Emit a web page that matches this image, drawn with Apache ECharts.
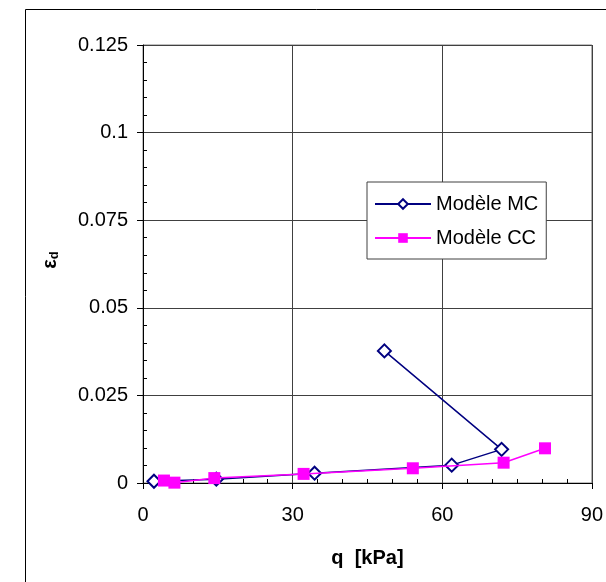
<!DOCTYPE html>
<html>
<head>
<meta charset="utf-8">
<script src="https://cdn.jsdelivr.net/npm/echarts@6/dist/echarts.min.js"></script>
<style>
  html, body { margin: 0; padding: 0; background: #fff; }
  #chart { width: 606px; height: 582px; }
</style>
</head>
<body>
<div id="chart"></div>
<script>
// Modèle MC (diamants) et Modèle CC (carrés)
let qMC = [2.2, 14.7, 34.4, 61.9, 71.9, 48.4];
let epsMC = [0.0005, 0.0011, 0.0028, 0.0051, 0.0096, 0.0377];
let qCC = [4.2, 6.3, 14.3, 32.2, 54.1, 72.3, 80.6];
let epsCC = [0.0007, 0.0001, 0.0014, 0.0026, 0.0042, 0.0058, 0.0099];
let seriesNames = ['Modèle MC', 'Modèle CC'];

let myChart = echarts.init(document.getElementById('chart'));
let font = 'Liberation Sans, Arial, sans-serif';

function pairs(xs, ys) {
    return xs.map((x, i) => [x, ys[i]]);
}

let option = {
    animation: false,
    backgroundColor: '#fff',
    textStyle: { fontFamily: font },
    graphic: [{
        type: 'rect',
        left: 23, top: 7,
        shape: { width: 700, height: 700 },
        style: { fill: 'none', stroke: '#000', lineWidth: 1 }
    }],
    grid: {
        left: 143, right: 13, top: 45, bottom: 99,
        show: true, borderColor: '#808080', borderWidth: 1
    },
    legend: {
        orient: 'vertical',
        left: 367, top: 182,
        width: 178,
        padding: [12, 8, 11, 7],
        itemWidth: 56, itemHeight: 12,
        itemGap: 14,
        backgroundColor: '#fff',
        borderColor: '#404040', borderWidth: 1,
        textStyle: { fontSize: 20, color: '#000', fontFamily: font },
        data: seriesNames
    },
    xAxis: [{
        type: 'value',
        min: 0, max: 90, interval: 30,
        name: 'q  [kPa]',
        nameLocation: 'middle', nameGap: 65,
        nameTextStyle: { fontSize: 20, fontWeight: 'bold', color: '#000' },
        axisLine: { show: true, onZero: false, lineStyle: { color: '#000' } },
        axisTick: { show: true, length: 6, lineStyle: { color: '#000' } },
        axisLabel: { fontSize: 20, color: '#000', margin: 22 },
        splitLine: { show: true, lineStyle: { color: '#404040', width: 1 } }
    }, {
        type: 'value',
        position: 'bottom',
        min: 0, max: 90, interval: 30,
        axisLine: { show: false },
        axisTick: { show: false, inside: true },
        minorTick: { show: true, splitNumber: 6, length: 4, lineStyle: { color: '#000' } },
        axisLabel: { show: false },
        splitLine: { show: false }
    }],
    yAxis: [{
        type: 'value',
        min: 0, max: 0.125, interval: 0.025,
        name: 'ε{sub|d}',
        nameLocation: 'middle', nameGap: 82,
        nameTextStyle: {
            fontSize: 20, fontWeight: 'bold', color: '#000', padding: [0, 0, 0, 8],
            rich: { sub: { fontSize: 13, fontWeight: 'bold', verticalAlign: 'bottom', padding: [8, 0, 0, 0] } }
        },
        axisLine: { show: true, onZero: false, lineStyle: { color: '#000' } },
        axisTick: { show: true, length: 6, lineStyle: { color: '#000' } },
        axisLabel: { fontSize: 20, color: '#000', margin: 15 },
        splitLine: { show: true, lineStyle: { color: '#404040', width: 1 } }
    }, {
        type: 'value',
        position: 'left',
        min: 0, max: 0.125, interval: 0.025,
        axisLine: { show: false },
        axisTick: { show: false, inside: true },
        minorTick: { show: true, splitNumber: 5, length: 4, lineStyle: { color: '#000' } },
        axisLabel: { show: false },
        splitLine: { show: false }
    }],
    series: [{
        name: seriesNames[0],
        type: 'line',
        data: pairs(qMC, epsMC),
        symbol: 'diamond',
        symbolSize: 13,
        color: '#000080',
        lineStyle: { color: '#000080', width: 1.5 },
        itemStyle: { color: '#fff', borderColor: '#000080', borderWidth: 2 },
        z: 3
    }, {
        name: seriesNames[1],
        type: 'line',
        data: pairs(qCC, epsCC),
        symbol: 'rect',
        symbolSize: 12,
        color: '#ff00ff',
        lineStyle: { color: '#ff00ff', width: 1.5 },
        itemStyle: { color: '#ff00ff' },
        z: 4
    }]
};
myChart.setOption(option);
</script>
</body>
</html>
